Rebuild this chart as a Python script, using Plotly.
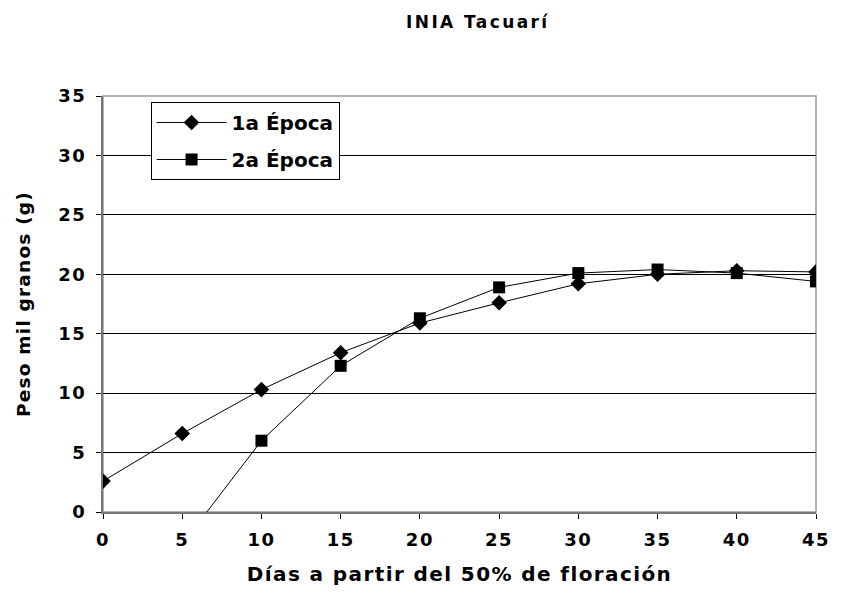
import plotly.graph_objects as go

dias = [0, 5, 10, 15, 20, 25, 30, 35, 40, 45]
epoca1 = [2.6, 6.6, 10.3, 13.4, 15.9, 17.6, 19.2, 20.0, 20.3, 20.2]
epoca2 = [None, -2.7, 6.0, 12.3, 16.3, 18.9, 20.1, 20.4, 20.1, 19.4]
y_ticks = [0, 5, 10, 15, 20, 25, 30, 35]
x_ticks = [0, 5, 10, 15, 20, 25, 30, 35, 40, 45]

FONT = "DejaVu Sans, Verdana, sans-serif"

fig = go.Figure()
fig.add_trace(go.Scatter(
    x=dias, y=epoca1, name="1a Época", mode="lines+markers",
    line=dict(color="black", width=1),
    marker=dict(symbol="diamond", size=12, color="black"),
    legendgroup="a",
))
fig.add_trace(go.Scatter(
    x=dias, y=epoca2, name="2a Época", mode="lines+markers",
    line=dict(color="black", width=1),
    marker=dict(symbol="square", size=12, color="black"),
    legendgroup="b", connectgaps=False,
))

fig.update_layout(
    width=833, height=595,
    margin=dict(l=95, r=18, t=88, b=91),
    paper_bgcolor="white", plot_bgcolor="white",
    font=dict(family=FONT, color="black", size=18, weight="bold"),
    title=dict(text="INIA Tacuarí", x=0.564, xanchor="center", y=0.976, yanchor="middle",
               font=dict(family=FONT, size=17, weight="bold", color="black")),
    showlegend=True,
    legend=dict(x=0.0667, y=0.9856, xanchor="left", yanchor="top",
                bgcolor="white", bordercolor="black", borderwidth=1,
                font=dict(family=FONT, size=20, weight="bold", color="black"),
                traceorder="grouped", tracegroupgap=8, itemwidth=70),
)
fig.update_xaxes(
    range=[0, 45], tickvals=x_ticks, ticks="outside", ticklen=5, tickcolor="black",
    ticklabelstandoff=5,
    showgrid=False, showline=True, linecolor="#777777", linewidth=2,
    zeroline=False, tickfont=dict(family=FONT, size=18, weight="bold"),
    title=dict(text="Días a partir del 50% de floración", standoff=18,
               font=dict(family=FONT, size=20, weight="bold")),
)
fig.update_yaxes(
    range=[0, 35], tickvals=y_ticks, ticks="outside", ticklen=5, tickcolor="black",
    ticklabelstandoff=6,
    showgrid=True, gridcolor="black", gridwidth=1,
    showline=True, linecolor="#777777", linewidth=2,
    zeroline=False, tickfont=dict(family=FONT, size=18, weight="bold"),
    title=dict(text="Peso mil granos (g)", standoff=26,
               font=dict(family=FONT, size=18.5, weight="bold")),
)
# gray border on top and right of the plot area
fig.add_shape(type="rect", xref="paper", yref="paper", x0=0, y0=0, x1=1, y1=1,
              line=dict(color="#999999", width=1.5), layer="below")

post = """
var st=document.createElement('style');
st.textContent='.gtitle{letter-spacing:2.4px}.xtitle{letter-spacing:1.4px}.ytitle{letter-spacing:1.2px}.xtick text,.ytick text{letter-spacing:1.5px}';
document.head.appendChild(st);
"""
fig.write_html("out.html", post_script=post)
